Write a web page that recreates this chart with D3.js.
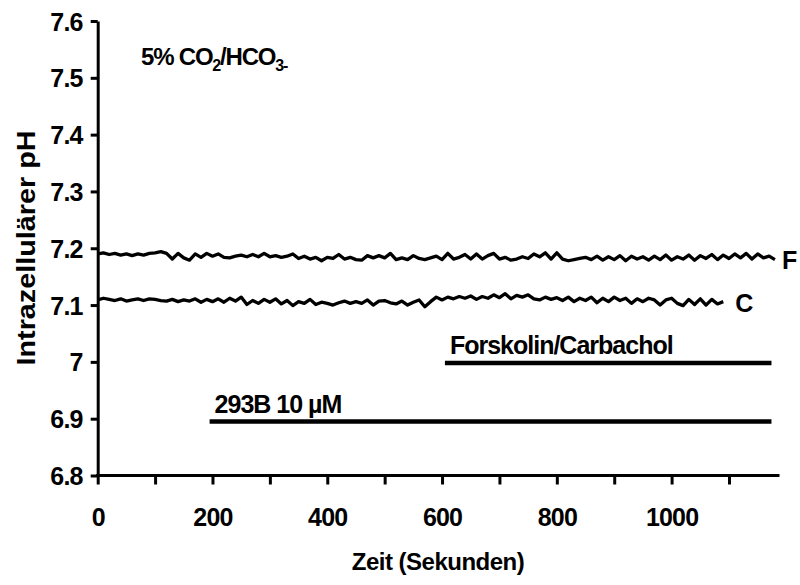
<!DOCTYPE html>
<html>
<head>
<meta charset="utf-8">
<script src="https://cdn.jsdelivr.net/npm/d3@7"></script>
<style>
	body { margin: 0; background: #fff; }
	text { font-family: "Liberation Sans", Arial, sans-serif; font-weight: bold; fill: #000; }
</style>
</head>
<body>
<svg></svg>
<script>
// pH traces, one sample every 10 s
const stepSec = 10;
const phF = [
	7.190, 7.192, 7.189, 7.191, 7.188, 7.190, 7.187, 7.190, 7.188, 7.191,
	7.192, 7.194, 7.191, 7.181, 7.191, 7.183, 7.179, 7.190, 7.184, 7.191,
	7.186, 7.190, 7.184, 7.183, 7.186, 7.188, 7.185, 7.189, 7.185, 7.191,
	7.185, 7.187, 7.184, 7.186, 7.190, 7.182, 7.186, 7.181, 7.184, 7.178,
	7.184, 7.182, 7.189, 7.181, 7.184, 7.180, 7.179, 7.187, 7.183, 7.187,
	7.183, 7.191, 7.180, 7.183, 7.180, 7.187, 7.182, 7.180, 7.183, 7.186,
	7.180, 7.191, 7.181, 7.184, 7.189, 7.181, 7.190, 7.181, 7.187, 7.191,
	7.181, 7.184, 7.179, 7.181, 7.185, 7.182, 7.190, 7.185, 7.192, 7.181,
	7.192, 7.181, 7.178, 7.180, 7.182, 7.184, 7.180, 7.186, 7.179, 7.185,
	7.180, 7.187, 7.178, 7.186, 7.181, 7.185, 7.179, 7.186, 7.180, 7.188,
	7.179, 7.185, 7.181, 7.188, 7.179, 7.187, 7.182, 7.189, 7.180, 7.188,
	7.182, 7.190, 7.183, 7.191, 7.181, 7.190, 7.183, 7.186, 7.180
];
const phC = [
	7.109, 7.112, 7.110, 7.108, 7.111, 7.107, 7.109, 7.111, 7.108, 7.111,
	7.110, 7.108, 7.107, 7.110, 7.106, 7.109, 7.107, 7.111, 7.105, 7.110,
	7.106, 7.111, 7.105, 7.112, 7.107, 7.114, 7.101, 7.108, 7.103, 7.110,
	7.105, 7.111, 7.102, 7.108, 7.099, 7.106, 7.103, 7.110, 7.101, 7.105,
	7.103, 7.100, 7.104, 7.107, 7.103, 7.106, 7.103, 7.109, 7.100, 7.107,
	7.108, 7.104, 7.102, 7.107, 7.100, 7.105, 7.109, 7.097, 7.106, 7.114,
	7.109, 7.114, 7.111, 7.115, 7.112, 7.116, 7.110, 7.115, 7.112, 7.118,
	7.113, 7.120, 7.111, 7.117, 7.114, 7.118, 7.111, 7.109, 7.114, 7.110,
	7.113, 7.108, 7.114, 7.106, 7.112, 7.108, 7.114, 7.104, 7.112, 7.106,
	7.114, 7.108, 7.112, 7.103, 7.111, 7.106, 7.112, 7.109, 7.100, 7.109,
	7.112, 7.103, 7.099, 7.110, 7.101, 7.111, 7.100, 7.110, 7.102, 7.106
];

// treatment bars: [label, start s, end s, pH level]
const treatments = [
	["Forskolin/Carbachol", 605, 1174, 6.998],
	["293B 10 \u00b5M", 195, 1174, 6.895]
];

const xTicks = [0, 100, 200, 300, 400, 500, 600, 700, 800, 900, 1000, 1100];
const yTicks = [6.8, 6.9, 7.0, 7.1, 7.2, 7.3, 7.4, 7.5, 7.6];

const size = { w: 800, h: 585 };
const svg = d3.select("svg").attr("width", size.w).attr("height", size.h);

const xScale = d3.scaleLinear().domain([0, 1188]).range([97.7, 779.5]);
const yScale = d3.scaleLinear().domain([6.8, 7.6]).range([475.5, 21]);

// axes
const xAxis = d3
	.axisBottom(xScale)
	.tickValues(xTicks)
	.tickSize(9)
	.tickPadding(24)
	.tickSizeOuter(0)
	.tickFormat((d) => (d % 200 === 0 ? d : ""));
const xAxisG = svg
	.append("g")
	.attr("transform", `translate(0, ${yScale(6.8)})`)
	.call(xAxis);

const yAxis = d3
	.axisLeft(yScale)
	.tickValues(yTicks)
	.tickSize(7)
	.tickPadding(8)
	.tickSizeOuter(0)
	.tickFormat((d) => (d === 7 ? "7" : d3.format(".1f")(d)));
const yAxisG = svg
	.append("g")
	.attr("transform", `translate(${xScale(0)}, 0)`)
	.call(yAxis);

[xAxisG, yAxisG].forEach((g) => {
	g.select(".domain").attr("stroke-width", 3).attr("stroke", "#000");
	g.selectAll(".tick line").attr("stroke-width", 3).attr("stroke", "#000");
	g.selectAll(".tick text")
		.attr("font-size", 25)
		.attr("font-family", "'Liberation Sans', Arial, sans-serif")
		.attr("font-weight", "bold")
		.attr("letter-spacing", -0.8)
		.attr("fill", "#000");
});
yAxisG.selectAll(".tick text").attr("dy", "0.36em");
// extend x axis line across the y axis
xAxisG.select(".domain").attr("d", `M${xScale(0) - 1.5},0H${xScale(1188)}`);

svg.append("text")
	.attr("x", 438)
	.attr("y", 570)
	.attr("text-anchor", "middle")
	.attr("font-size", 24)
	.attr("letter-spacing", -0.5)
	.text("Zeit (Sekunden)");

svg.append("text")
	.attr("transform", "translate(35, 248) rotate(-90)")
	.attr("text-anchor", "middle")
	.attr("font-size", 25)
	.attr("textLength", 235)
	.attr("lengthAdjust", "spacingAndGlyphs")
	.text("Intrazellulärer pH");

// traces
const line = d3
	.line()
	.x((d, i) => xScale(i * stepSec))
	.y((d) => yScale(d));

[phF, phC].forEach((series) => {
	svg.append("path")
		.datum(series)
		.attr("fill", "none")
		.attr("stroke", "#000")
		.attr("stroke-width", 3.3)
		.attr("stroke-linejoin", "round")
		.attr("d", line);
});

svg.append("text")
	.attr("x", xScale((phF.length - 1) * stepSec) + 7)
	.attr("y", yScale(7.183) + 11)
	.attr("font-size", 25)
	.text("F");
svg.append("text")
	.attr("x", xScale((phC.length - 1) * stepSec) + 12)
	.attr("y", yScale(7.107) + 11)
	.attr("font-size", 25)
	.text("C");

// treatment bars
treatments.forEach(([label, t0, t1, level]) => {
	svg.append("line")
		.attr("x1", xScale(t0))
		.attr("x2", xScale(t1))
		.attr("y1", yScale(level))
		.attr("y2", yScale(level))
		.attr("stroke", "#000")
		.attr("stroke-width", 4.5);
	svg.append("text")
		.attr("x", xScale(t0) + 5)
		.attr("y", yScale(level) - 9)
		.attr("font-size", 25)
		.attr("letter-spacing", -1)
		.text(label);
});

// gas annotation
const gas = svg.append("text")
	.attr("x", 141)
	.attr("y", 65)
	.attr("font-size", 24)
	.attr("letter-spacing", -1.2);
gas.append("tspan").text("5% CO");
gas.append("tspan").attr("font-size", 16).attr("dy", 6).text("2");
gas.append("tspan").attr("dy", -6).text("/HCO");
gas.append("tspan").attr("font-size", 16).attr("dy", 6).text("3-");
</script>
</body>
</html>
